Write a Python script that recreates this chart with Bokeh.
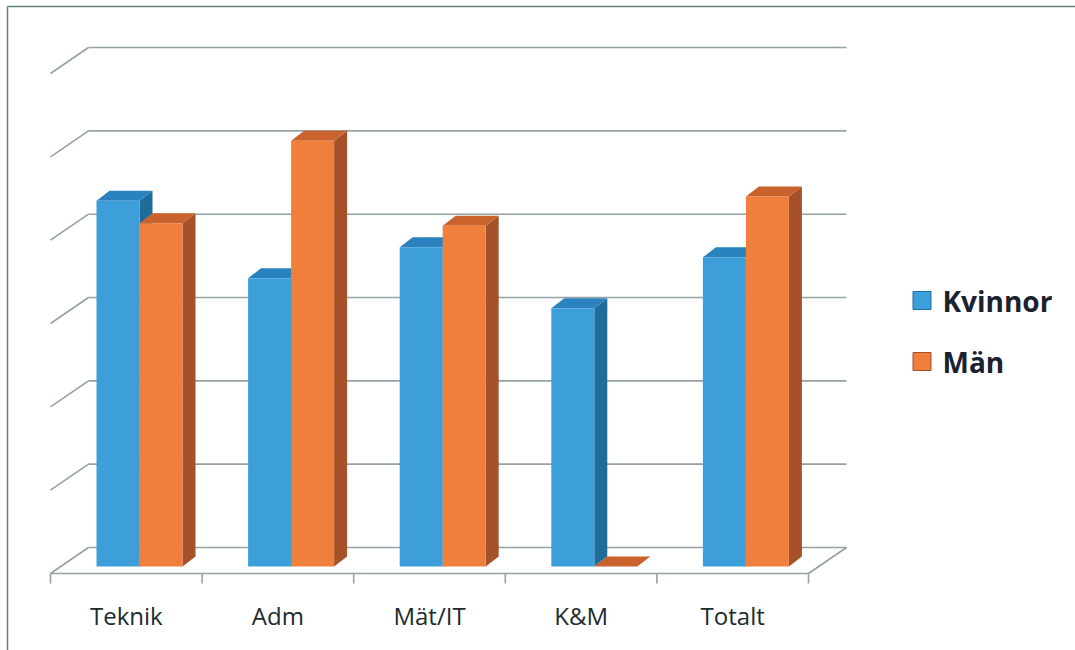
from bokeh.plotting import figure
from bokeh.models import Range1d
from bokeh.core.properties import value
from bokeh.embed import file_html
from bokeh.resources import INLINE

# ---------------- data ----------------
categories = ["Teknik", "Adm", "Mät/IT", "K&M", "Totalt"]
kvinnor = [4.39, 3.46, 3.83, 3.10, 3.71]
man = [4.12, 5.11, 4.09, 0.0, 4.44]
series_names = ["Kvinnor", "Män"]
grid_levels = [0, 1, 2, 3, 4, 5, 6]

# ---------------- geometry / style ----------------
W, H = 1075, 650
PX = 151.6      # pixels per category
PY = 83.33      # pixels per value unit
X0 = 50         # pixel x of category axis start
Y0 = 573        # pixel y (from top) of front baseline


def dx(p):
    return p / PX


def dy(p):
    return p / PY


WX, WY = dx(38), dy(26)     # wall depth
FX, FY = dx(10), dy(7)      # bar front plane offset
BX, BY = dx(13), dy(10)     # bar depth
OFF = dx(36)
BW = dx(43)

colors = {
    0: dict(front="#3d9fd9", top="#2a82be", side="#1f6c9a"),
    1: dict(front="#f07f3c", top="#c9622c", side="#a5512a"),
}
grid_color = "#95a2a2"
text_color = "#1c2b2d"

p = figure(width=W, height=H,
           x_range=Range1d(-X0 / PX, (W - X0) / PX),
           y_range=Range1d(-(H - Y0) / PY, Y0 / PY),
           x_axis_location=None, y_axis_location=None,
           toolbar_location=None, output_backend="svg",
           min_border=0, background_fill_color="white",
           border_fill_color="white")
p.outline_line_color = None
p.xgrid.grid_line_color = None
p.ygrid.grid_line_color = None

n = len(categories)

# back wall gridlines
p.multi_line(xs=[[WX, n + WX] for v in grid_levels],
             ys=[[v + WY, v + WY] for v in grid_levels],
             line_color=grid_color, line_width=1.6)
# left wall diagonals
p.multi_line(xs=[[0, WX] for v in grid_levels],
             ys=[[v, v + WY] for v in grid_levels],
             line_color=grid_color, line_width=1.6)
# floor front edge, right diagonal, ticks
p.line(x=[0, n], y=[0, 0], line_color=grid_color, line_width=1.6)
p.line(x=[n, n + WX], y=[0, WY], line_color=grid_color, line_width=1.6)
p.multi_line(xs=[[i, i] for i in range(n + 1)],
             ys=[[0, -dy(10)] for i in range(n + 1)],
             line_color=grid_color, line_width=1.6)

# bars
for j, vals in enumerate([kvinnor, man]):
    fronts_x, fronts_y, tops_x, tops_y, sides_x, sides_y = [], [], [], [], [], []
    for i, h in enumerate(vals):
        x1 = i + OFF + FX + j * BW
        x2 = x1 + BW
        yb = FY
        yt = FY + h
        fronts_x.append([x1, x2, x2, x1])
        fronts_y.append([yb, yb, yt, yt])
        tops_x.append([x1, x2, x2 + BX, x1 + BX])
        tops_y.append([yt, yt, yt + BY, yt + BY])
        sides_x.append([x2, x2 + BX, x2 + BX, x2])
        sides_y.append([yb, yb + BY, yt + BY, yt])
    c = colors[j]
    p.patches(xs=sides_x, ys=sides_y, fill_color=c["side"], line_color=None)
    p.patches(xs=tops_x, ys=tops_y, fill_color=c["top"], line_color=None)
    p.patches(xs=fronts_x, ys=fronts_y, fill_color=c["front"], line_color=None)

# category labels
p.text(x=[i + 0.5 for i in range(n)], y=[dy(-42)] * n, text=categories,
       text_align="center", text_baseline="middle",
       text_font=value("Open Sans"), text_font_size="24px",
       text_color=text_color)

# legend
leg_x = dx(921.5 - X0)
leg_y = [dy(Y0 - 300), dy(Y0 - 361)]
p.rect(x=[leg_x, leg_x], y=leg_y, width=dx(18), height=dy(18),
       fill_color=[colors[0]["front"], colors[1]["front"]],
       line_color=[colors[0]["side"], colors[1]["side"]], line_width=1)
p.text(x=[dx(942 - X0)] * 2, y=leg_y, text=series_names,
       text_align="left", text_baseline="middle",
       text_font=value("Open Sans"), text_font_size="28px",
       text_font_style="bold", text_color="#1a2230")

# outer border (left and top)
p.line(x=[dx(7 - X0), dx(7 - X0)], y=[dy(Y0 - 6), -(H - Y0) / PY],
       line_color="#5f7f80", line_width=1.5)
p.line(x=[dx(7 - X0), (W - X0) / PX], y=[dy(Y0 - 6), dy(Y0 - 6)],
       line_color="#5f7f80", line_width=1.5)

open("out.html", "w").write(file_html(p, INLINE))
